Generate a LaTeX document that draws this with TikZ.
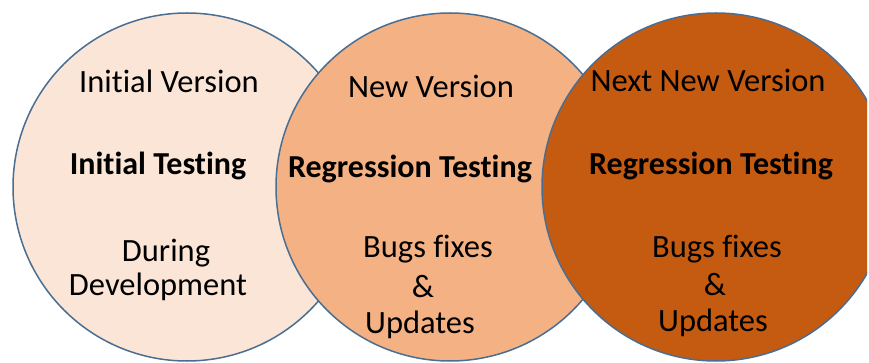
\documentclass[tikz,border=0pt]{standalone}
\usepackage{fontspec}
\setmainfont{Carlito}[Ligatures={NoCommon}]
\definecolor{fillA}{HTML}{FBE5D6}
\definecolor{fillB}{HTML}{F4B183}
\definecolor{fillC}{HTML}{C55A11}
\definecolor{edge}{HTML}{4A6E92}
\begin{document}
\begin{tikzpicture}[x=1pt,y=-1pt,
  disc/.style={circle, draw=edge, line width=1.5pt, minimum size=348pt, inner sep=0pt},
  txt/.style={anchor=base, inner sep=0pt, font=\fontsize{32.5}{36}\selectfont, text=black},
  btxt/.style={txt, font=\fontsize{32}{36}\selectfont\bfseries}]
\path[use as bounding box] (0,0) rectangle (869,363);
\begin{scope}
\clip (0,0) rectangle (867,363);
\node[disc, fill=fillA] (c1) at (187,187) {};
\node[disc, fill=fillB] (c2) at (450,187) {};
\node[disc, fill=fillC] (c3) at (716,187) {};
\end{scope}
% circle 1
\node[txt]  (a1) at (169,93)  {Initial Version};
\node[btxt] (a2) at (158,175) {Initial Testing};
\node[txt]  (a3) at (166,261) {During};
\node[txt]  (a4) at (158,295) {Development};
% circle 2
\node[txt]  (b1) at (431,98)  {New Version};
\node[btxt] (b2) at (410,178) {Regression Testing};
\node[txt]  (b3) at (428,258) {Bugs fixes};
\node[txt]  (b4) at (423,297) {\&};
\node[txt]  (b5) at (420,333) {Updates};
% circle 3
\node[txt]  (d1) at (708,92)  {Next New Version};
\node[btxt] (d2) at (711,175) {Regression Testing};
\node[txt]  (d3) at (717,257) {Bugs fixes};
\node[txt]  (d4) at (715,295) {\&};
\node[txt]  (d5) at (713,331) {Updates};
\end{tikzpicture}
\end{document}
